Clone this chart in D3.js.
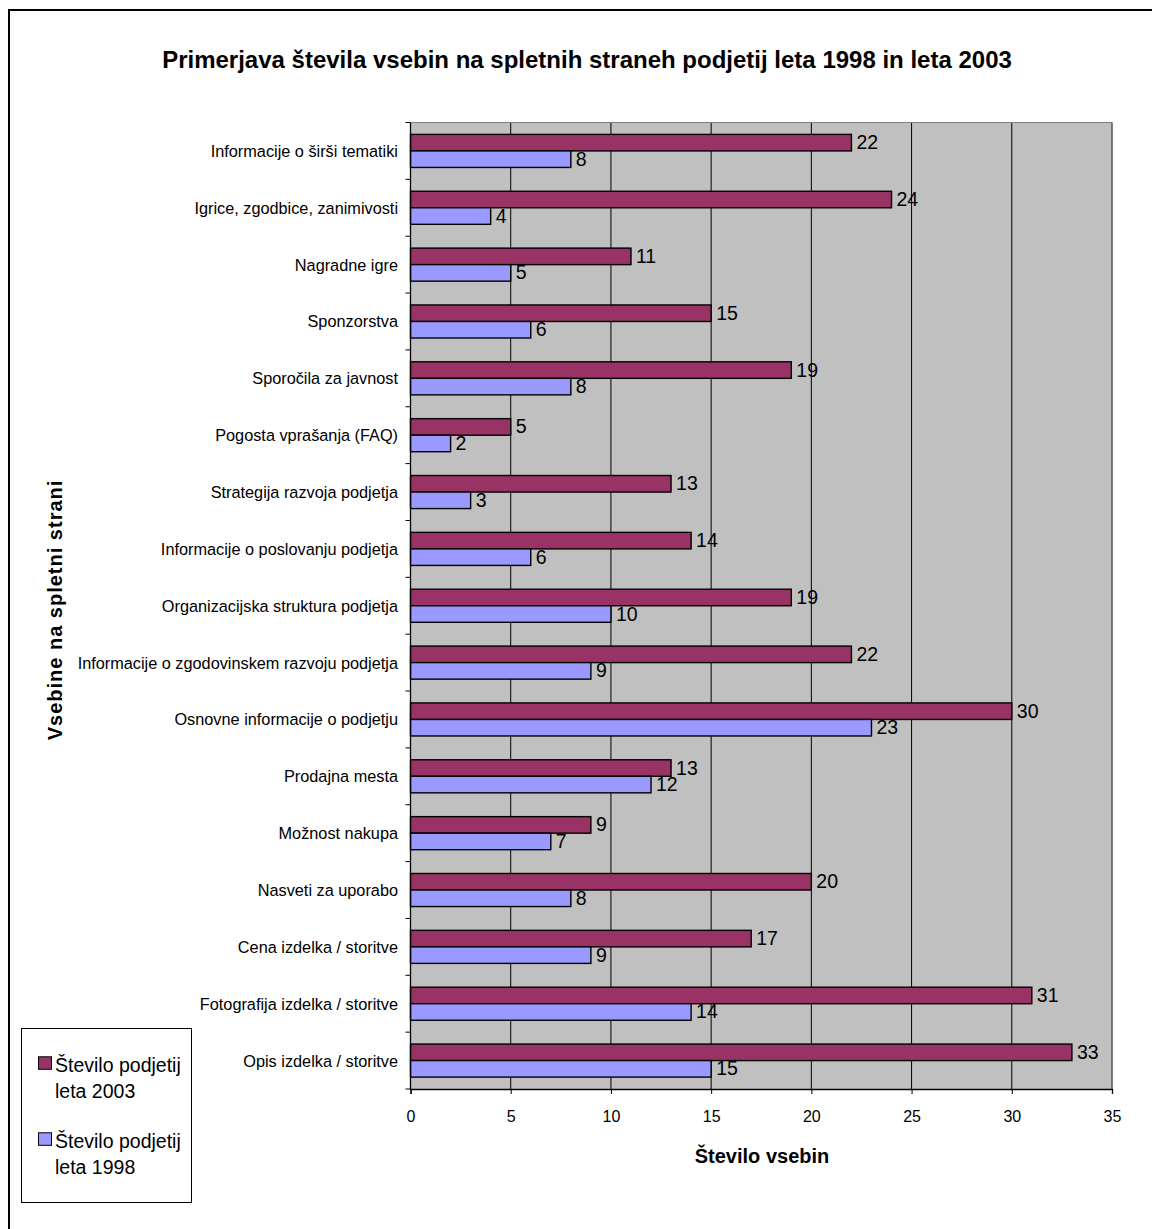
<!DOCTYPE html>
<html><head><meta charset="utf-8">
<script src="https://d3js.org/d3.v7.min.js"></script>
<style>body{margin:0;background:#fff}svg{display:block}text{font-family:"Liberation Sans",Arial,sans-serif}</style>
</head><body>
<script>
const categories = ["Informacije o širši tematiki","Igrice, zgodbice, zanimivosti","Nagradne igre","Sponzorstva","Sporočila za javnost","Pogosta vprašanja (FAQ)","Strategija razvoja podjetja","Informacije o poslovanju podjetja","Organizacijska struktura podjetja","Informacije o zgodovinskem razvoju podjetja","Osnovne informacije o podjetju","Prodajna mesta","Možnost nakupa","Nasveti za uporabo","Cena izdelka / storitve","Fotografija izdelka / storitve","Opis izdelka / storitve"];
const values2003 = [22,24,11,15,19,5,13,14,19,22,30,13,9,20,17,31,33];
const values1998 = [8,4,5,6,8,2,3,6,10,9,23,12,7,8,9,14,15];
const seriesNames = [["Število podjetij","leta 2003"],["Število podjetij","leta 1998"]];
const xTicks = [0,5,10,15,20,25,30,35];
const title = "Primerjava števila vsebin na spletnih straneh podjetij leta 1998 in leta 2003";
const xTitle = "Število vsebin";
const yTitle = "Vsebine na spletni strani";

const W = 1152, H = 1229;
const m = {left:410.5, right:1112, top:122.5, bottom:1089};
const svg = d3.select("body").append("svg").attr("width",W).attr("height",H);

svg.append("rect").attr("x",9).attr("y",10).attr("width",W+20).attr("height",H+20)
  .attr("fill","none").attr("stroke","#000").attr("stroke-width",2);

svg.append("text").attr("x",587).attr("y",68).attr("text-anchor","middle")
  .attr("font-size",24).attr("font-weight","bold").text(title);

const x = d3.scaleLinear().domain([0,35]).range([m.left,m.right]);
const y = d3.scaleBand().domain(categories).range([m.top,m.bottom]);
const inner = d3.scaleBand().domain(["2003","1998"]).range([0,y.bandwidth()]).paddingOuter(0.72).paddingInner(0);

svg.append("rect").attr("x",m.left).attr("y",m.top).attr("width",m.right-m.left).attr("height",m.bottom-m.top)
  .attr("fill","#C0C0C0");

// gridlines
svg.append("g").selectAll("line").data(xTicks.slice(1)).join("line")
  .attr("x1",d=>x(d)).attr("x2",d=>x(d)).attr("y1",m.top).attr("y2",m.bottom)
  .attr("stroke","#000").attr("stroke-width",1);

svg.append("line").attr("x1",m.left).attr("x2",m.right).attr("y1",m.top).attr("y2",m.top).attr("stroke","#808080").attr("stroke-width",1);
svg.append("line").attr("x1",m.right).attr("x2",m.right).attr("y1",m.top).attr("y2",m.bottom).attr("stroke","#808080").attr("stroke-width",1);

const rows = categories.map((c,i)=>({c, v03:values2003[i], v98:values1998[i]}));
const g = svg.append("g");
const colors = {"2003":"#993366","1998":"#9999FF"};
["2003","1998"].forEach(s=>{
  const key = s==="2003"?"v03":"v98";
  g.selectAll(".b"+s).data(rows).join("rect")
    .attr("x",x(0)).attr("y",d=>y(d.c)+inner(s)).attr("width",d=>x(d[key])-x(0)).attr("height",inner.bandwidth())
    .attr("fill",colors[s]).attr("stroke","#000").attr("stroke-width",1.4);
  g.selectAll(".l"+s).data(rows).join("text")
    .attr("x",d=>x(d[key])+5).attr("y",d=>y(d.c)+inner(s)+inner.bandwidth()/2+6.5)
    .attr("font-size",19.5).text(d=>d[key]);
});

// axes
const xAxis = svg.append("g").attr("transform",`translate(0,${m.bottom})`)
  .call(d3.axisBottom(x).tickValues(xTicks).tickSize(5).tickPadding(17));
xAxis.select(".domain").attr("stroke","#000").attr("stroke-width",1.3);
xAxis.selectAll("text").attr("font-size",16).attr("fill","#000").attr("font-family","Liberation Sans, Arial, sans-serif");

const bounds = categories.map(c=>y(c)).concat([m.bottom]);
svg.append("g").selectAll("line").data(bounds).join("line")
  .attr("x1",m.left-5).attr("x2",m.left).attr("y1",d=>d).attr("y2",d=>d).attr("stroke","#000");
svg.append("line").attr("x1",m.left).attr("x2",m.left).attr("y1",m.top).attr("y2",m.bottom).attr("stroke","#000").attr("stroke-width",1.3);

svg.append("g").selectAll("text").data(categories).join("text")
  .attr("x",398).attr("y",d=>y(d)+y.bandwidth()/2+6)
  .attr("text-anchor","end").attr("font-size",16.3).text(d=>d);

svg.append("text").attr("x",762).attr("y",1163).attr("text-anchor","middle")
  .attr("font-size",20).attr("font-weight","bold").text(xTitle);

svg.append("text").attr("transform","translate(62,610) rotate(-90)").attr("text-anchor","middle")
  .attr("font-size",20).attr("font-weight","bold").attr("letter-spacing",1).text(yTitle);

// legend
const lg = svg.append("g");
lg.append("rect").attr("x",21.5).attr("y",1028.5).attr("width",170).attr("height",174).attr("fill","#fff").attr("stroke","#000");
const lgColors = ["#993366","#9999FF"];
seriesNames.forEach((n,i)=>{
  const base = 1072.3 + i*76;
  lg.append("rect").attr("x",38.5).attr("y",base-15.5).attr("width",13).attr("height",12.5).attr("fill",lgColors[i]).attr("stroke","#000");
  lg.append("text").attr("x",55).attr("y",base).attr("font-size",19.5).text(n[0]);
  lg.append("text").attr("x",55).attr("y",base+25.5).attr("font-size",19.5).text(n[1]);
});
</script>
</body></html>
